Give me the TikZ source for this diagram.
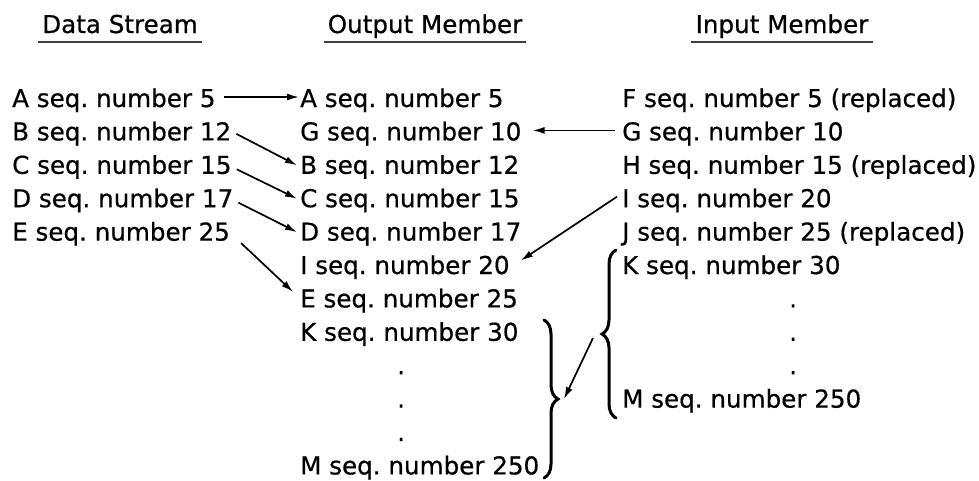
\documentclass[tikz,border=0pt]{standalone}
\usepackage{fontspec}
\setmainfont[FakeBold=0.6]{DejaVu Sans}
\usetikzlibrary{arrows.meta,decorations.pathreplacing}
\frenchspacing
\begin{document}
\frenchspacing
\begin{tikzpicture}[x=1pt,y=1pt,
  lbl/.style={inner sep=0pt, anchor=base west, text height=18pt, text depth=5pt, font=\fontsize{24.6}{30}\selectfont\frenchspacing},
  hdr/.style={lbl, anchor=base},
  conn/.style={line width=1.7pt, -{Latex[length=12pt,width=7pt]}},
  uline/.style={line width=2pt, black!75},
  bracestyle/.style={line width=3pt, line cap=round, decorate, decoration={brace, amplitude=14pt}}]
\useasboundingbox (0,0) rectangle (979,-480);
% headers
\node[hdr] (hD) at (120,-33) {Data Stream};
\node[hdr] (hO) at (425,-33) {Output Member};
\node[hdr] (hI) at (782,-33) {Input Member};
\foreach \h in {hD,hO,hI}
  \draw[uline] ([shift={(-4,-9)}]\h.base west) -- ([shift={(4,-9)}]\h.base east);
% data stream
\node[lbl] (dA) at (12,-107) {A seq. number 5};
\node[lbl] (dB) at (12,-140.4) {B seq. number 12};
\node[lbl] (dC) at (12,-173.8) {C seq. number 15};
\node[lbl] (dD) at (12,-207.2) {D seq. number 17};
\node[lbl] (dE) at (12,-240.6) {E seq. number 25};
% output member
\node[lbl] (oA) at (300,-107) {A seq. number 5};
\node[lbl] (oG) at (300,-140.4) {G seq. number 10};
\node[lbl] (oB) at (300,-173.8) {B seq. number 12};
\node[lbl] (oC) at (300,-207.2) {C seq. number 15};
\node[lbl] (oD) at (300,-240.6) {D seq. number 17};
\node[lbl] (oI) at (300,-274) {I seq. number 20};
\node[lbl] (oE) at (300,-307.4) {E seq. number 25};
\node[lbl] (oK) at (300,-340.8) {K seq. number 30};
\node[lbl] (od1) at (397,-374.2) {.};
\node[lbl] (od2) at (397,-407.6) {.};
\node[lbl] (od3) at (397,-441) {.};
\node[lbl] (oM) at (300,-474.4) {M seq. number 250};
% input member
\node[lbl] (iF) at (622,-107) {F seq. number 5 (replaced)};
\node[lbl] (iG) at (622,-140.4) {G seq. number 10};
\node[lbl] (iH) at (622,-173.8) {H seq. number 15 (replaced)};
\node[lbl] (iI) at (622,-207.2) {I seq. number 20};
\node[lbl] (iJ) at (622,-240.6) {J seq. number 25 (replaced)};
\node[lbl] (iK) at (622,-274) {K seq. number 30};
\node[lbl] (id1) at (789,-307.4) {.};
\node[lbl] (id2) at (789,-340.8) {.};
\node[lbl] (id3) at (789,-374.2) {.};
\node[lbl] (iM) at (622,-407.6) {M seq. number 250};
% braces
\draw[bracestyle] (544,-320) -- (544,-478);
\draw[bracestyle] (616,-418) -- (616,-250);
\coordinate (obt) at (558,-399);
\coordinate (ibt) at (602,-334);
% connectors
\draw[conn] ([shift={(8,3.5)}]dA.east) -- ([shift={(-1,3.5)}]oA.west);
\draw[conn] ([shift={(5,0)}]dB.east) -- ([shift={(-3,2)}]oB.west);
\draw[conn] ([shift={(5,-2)}]dC.east) -- ([shift={(-3,2)}]oC.west);
\draw[conn] ([shift={(5,-2)}]dD.east) -- ([shift={(-3,2)}]oD.west);
\draw[conn] ([shift={(11,-9)}]dE.east) -- ([shift={(-7,9)}]oE.west);
\draw[conn] ([shift={(-7,3.5)}]iG.west) -- ([shift={(11,3.5)}]oG.east);
\draw[conn] ([shift={(-5,4)}]iI.west) -- ([shift={(11,7)}]oI.east);
\draw[conn] ([shift={(-9,-4)}]ibt) -- ([shift={(6,0)}]obt);
\end{tikzpicture}
\end{document}
